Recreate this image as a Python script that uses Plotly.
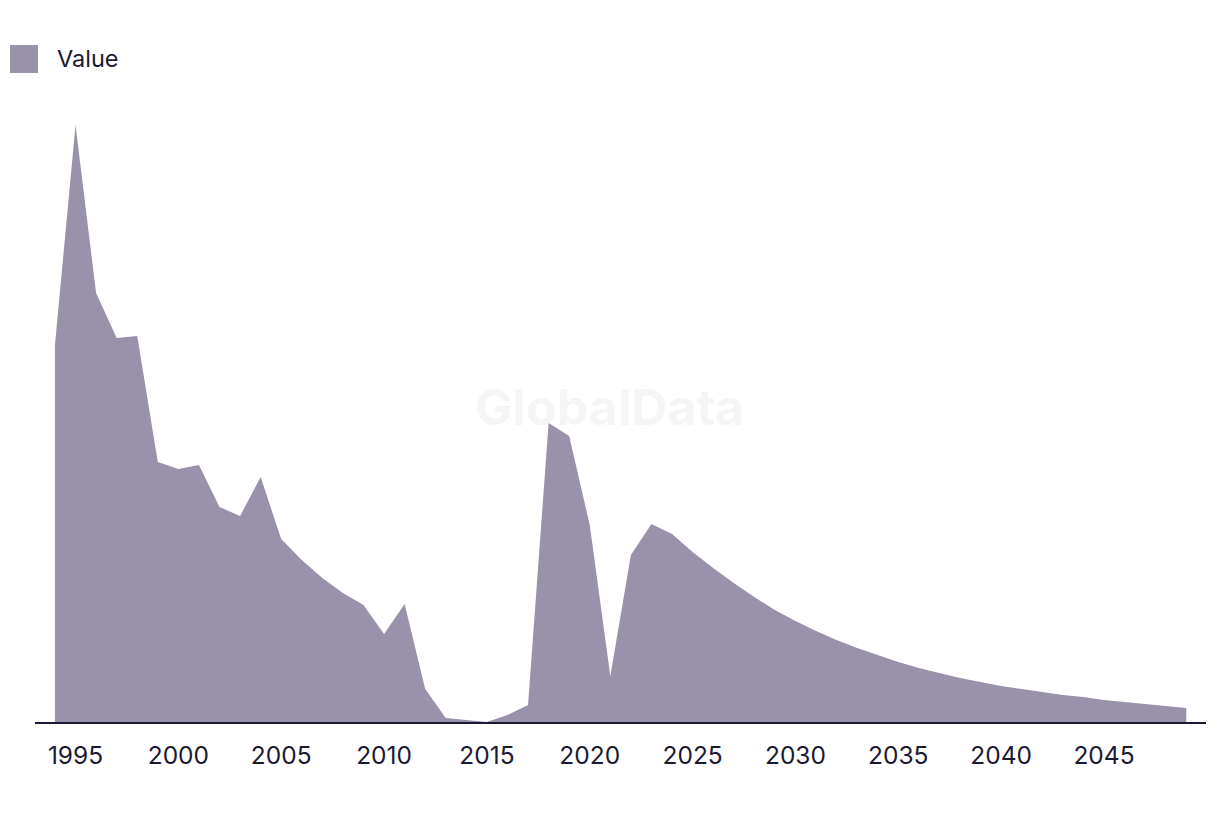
import plotly.graph_objects as go

years = list(range(1994, 2050))
values = [377, 597, 429, 384, 386, 260, 253, 257, 215, 206, 245, 183,
          162, 144, 129, 117, 88, 118, 33, 4, 2, 0, 7, 17, 299, 286,
          197, 46, 167, 198, 188, 170, 154, 139, 125, 112, 101, 91, 82,
          74, 67, 60, 54, 49, 44, 40, 36, 33, 30, 27, 25, 22, 20, 18, 16, 14]

tick_vals = list(range(1995, 2050, 5))
tick_text = [str(v) for v in tick_vals]

FILL = "#9a92aa"
INK = "#1b1932"
FONT = "Inter"

fig = go.Figure()
fig.add_trace(go.Scatter(
    x=years, y=values, mode="lines", fill="tozeroy",
    line=dict(width=0, color=FILL), fillcolor=FILL,
    name="Value", showlegend=False, hoverinfo="x+y",
))

fig.update_layout(
    width=1220, height=814,
    margin=dict(l=35, r=14, t=100, b=92),
    paper_bgcolor="white", plot_bgcolor="white",
    font=dict(family=FONT, color=INK, size=24),
    xaxis=dict(
        range=[1993.03, 2049.96], tickvals=tick_vals, ticktext=tick_text,
        showgrid=False, zeroline=False, showline=True, linecolor=INK,
        linewidth=2, ticks="", ticklabelstandoff=11,
        tickfont=dict(family=FONT, size=24.5, color=INK),
    ),
    yaxis=dict(range=[0, 622], visible=False, showgrid=False, zeroline=False),
    shapes=[dict(type="rect", xref="paper", yref="paper",
                 x0=-0.02135, x1=0.00256, y0=1.0434, y1=1.0884,
                 fillcolor=FILL, line=dict(width=0))],
    annotations=[
        dict(text="Value", xref="paper", yref="paper", x=0.0171, y=1.0675,
             xanchor="left", yanchor="middle", showarrow=False,
             font=dict(family=FONT, size=23.5, color=INK)),
        dict(text="<b>GlobalData</b>", xref="paper", yref="paper",
             x=0.491, y=0.506, xanchor="center", yanchor="middle",
             showarrow=False,
             font=dict(family=FONT, size=50, color="rgba(200,200,200,0.18)")),
    ],
)

fig.write_html("out.html")
